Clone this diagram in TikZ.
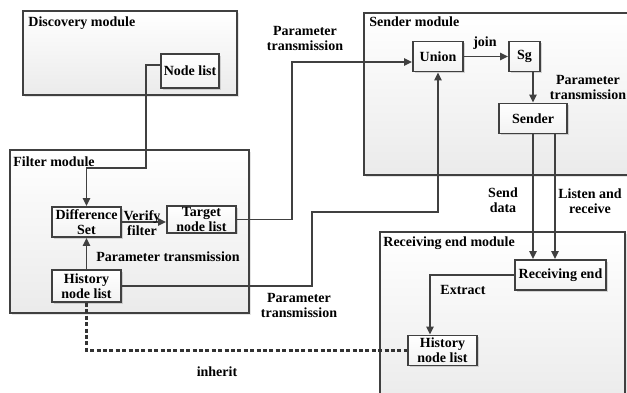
\documentclass[tikz,border=0pt]{standalone}
\usepackage{fontspec}
\setmainfont{Liberation Serif}
\usetikzlibrary{arrows.meta,shadows}

\begin{document}
\begin{tikzpicture}[x=0.5pt,y=-0.5pt,
    every node/.style={font=\fontsize{7}{7.5}\selectfont\bfseries, align=center},
    module/.style={draw=black!75, line width=1pt, top color=white, bottom color=gray!16,
      drop shadow={shadow xshift=0.8pt, shadow yshift=-0.8pt, opacity=0.2}},
    title/.style={anchor=base west, inner sep=0pt},
    box/.style={draw=black!75, line width=0.9pt, top color=white, bottom color=gray!10,
      minimum height=15pt, inner sep=0.5pt,
      drop shadow={shadow xshift=0.8pt, shadow yshift=-0.8pt, opacity=0.3}},
    link/.style={draw=black!75, line width=0.8pt},
    arrow/.style={link, -{Triangle[length=4pt,width=3.6pt]}},
    inherit/.style={draw=black!80, line width=1.1pt, dash pattern=on 2pt off 1.2pt}]
  \clip (0,0) rectangle (627,392);
  \fill[white] (0,0) rectangle (627,392);

  % Module frames
  \draw[module] (23,11) rectangle (237,95);
  \draw[module] (10,150) rectangle (249,313);
  \draw[module] (364,13) rectangle (645,175);
  \draw[module] (380,232) rectangle (625,405);
  \node[title] (disctitle) at (28,26) {Discovery module};
  \node[title] (filttitle) at (13,166) {Filter module};
  \node[title] (sendtitle) at (369,26) {Sender module};
  \node[title] (recvtitle) at (383,246) {Receiving end module};

  % Boxes
  \node[box, minimum width=29pt, minimum height=17pt] (nodelist) at (190,71) {Node list};
  \node[box, minimum width=34.5pt] (diffset) at (86.5,222) {Difference\\Set};
  \node[box, minimum width=34.5pt, minimum height=13pt] (target) at (201.5,219.5) {Target\\node list};
  \node[box, minimum width=34.5pt, minimum height=16pt] (hist) at (86.5,286) {History\\node list};
  \node[box, minimum width=25pt] (union) at (438,56.5) {Union};
  \node[box, minimum width=15.5pt] (sg) at (524.5,56.5) {Sg};
  \node[box, minimum width=34pt] (sender) at (533,118.5) {Sender};
  \node[box, minimum width=45.5pt] (recvend) at (560.5,275) {Receiving end};
  \node[box, minimum width=34.5pt] (hist2) at (442.5,350.5) {History\\node list};

  % Connectors
  \draw[arrow] ([yshift=3pt]nodelist.west) -| (146,168) -| (diffset.north);
  \draw[arrow] (diffset.east) -- (target.west |- diffset.east);
  \draw[arrow] (hist.north) -- (diffset.south);
  \draw[arrow] (target.east) -| (292,62) -- ([yshift=-2.75pt]union.west);
  \draw[arrow] (hist.east) -| (312,212) -| (union.south);
  \draw[arrow] (union) -- (sg);
  \draw[arrow] (sender.north |- sg.south) -- (sender.north);
  \draw[arrow] (sender.south) -- (sender.south |- recvend.north);
  \draw[arrow] ([xshift=11pt]sender.south) -- ([xshift=11pt]sender.south |- recvend.north);
  \draw[arrow] (recvend.west) -| ([xshift=-6.25pt]hist2.north);
  \draw[inherit] (hist.south) |- (hist2.west);

  % Labels
  \node (partop) at (305,38) {Parameter\\transmission};
  \node (join) at (485,43) {join};
  \node (parsend) at (588,87) {Parameter\\transmission};
  \node (verify) at (142,223) {Verify\\filter};
  \node (parfilt) at (168,257) {Parameter transmission};
  \node (parbot) at (299,305) {Parameter\\transmission};
  \node (senddata) at (503,200) {Send\\data};
  \node (listen) at (590,201) {Listen and\\receive};
  \node (extract) at (463,290) {Extract};
  \node (inheritlbl) at (217,372) {inherit};
\end{tikzpicture}
\end{document}
